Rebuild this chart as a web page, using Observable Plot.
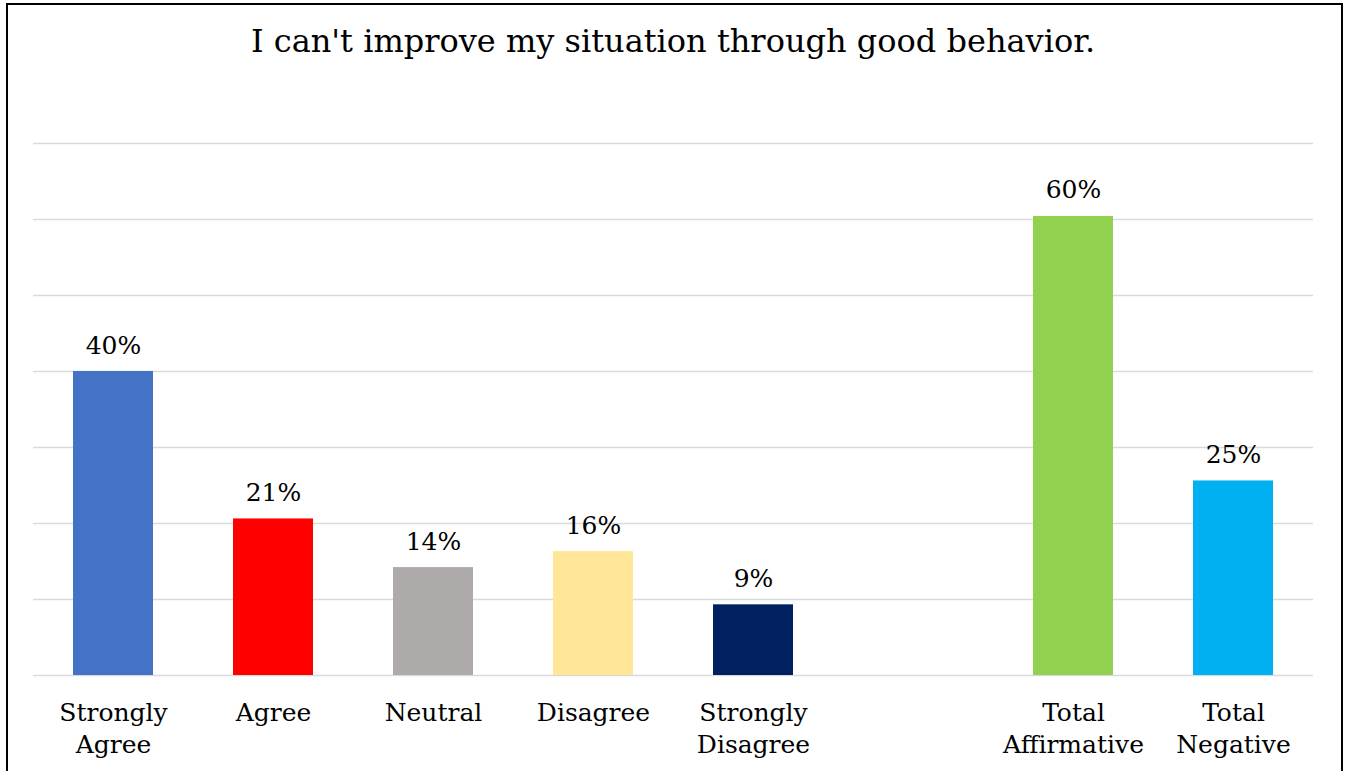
<!DOCTYPE html>
<html>
<head>
<meta charset="utf-8">
<script src="https://cdn.jsdelivr.net/npm/d3@7"></script>
<script src="https://cdn.jsdelivr.net/npm/@observablehq/plot@0.6"></script>
<style>
  html, body { margin: 0; padding: 0; background: #fff; }
  body { width: 1346px; height: 771px; overflow: hidden; position: relative; font-family: "DejaVu Serif", Georgia, serif; }
  #frame { position: absolute; left: 6px; top: 3px; width: 1337px; height: 820px; border: 2px solid #000; box-sizing: border-box; }
  #title { position: absolute; left: 0; top: 22px; width: 1346px; text-align: center; font-size: 32px; color: #000; }
  #chart { position: absolute; left: 0; top: 0; }
</style>
</head>
<body>
<div id="frame"></div>
<div id="title">I can't improve my situation through good behavior.</div>
<div id="chart"></div>
<script>
const categories = ["Strongly Agree", "Agree", "Neutral", "Disagree", "Strongly Disagree", "Total Affirmative", "Total Negative"];
const values = [40.0, 20.6, 14.2, 16.3, 9.3, 60.4, 25.6];
const valueLabels = ["40%", "21%", "14%", "16%", "9%", "60%", "25%"];
const tickLabels = ["Strongly\nAgree", "Agree", "Neutral", "Disagree", "Strongly\nDisagree", "Total\nAffirmative", "Total\nNegative"];
const colors = ["#4472C4", "#FF0000", "#AEAAAA", "#FFE699", "#002060", "#92D050", "#00B0F0"];
const xDomain = ["Strongly Agree", "Agree", "Neutral", "Disagree", "Strongly Disagree", " ", "Total Affirmative", "Total Negative"];
const gridTicks = [0, 10, 20, 30, 40, 50, 60, 70];

const data = categories.map((c, i) => ({category: c, value: values[i], label: valueLabels[i], tick: tickLabels[i], color: colors[i]}));

const chart = Plot.plot({
  width: 1346,
  height: 771,
  marginLeft: 33,
  marginRight: 33,
  marginTop: 143,
  marginBottom: 96,
  style: {fontFamily: '"DejaVu Serif", Georgia, serif', background: "transparent"},
  x: {domain: xDomain, paddingInner: 0.5, paddingOuter: 0.25, axis: null},
  y: {domain: [0, 70], axis: null},
  marks: [
    Plot.ruleY(gridTicks, {stroke: "#d9d9d9", strokeWidth: 1.5}),
    Plot.barY(data, {x: "category", y: "value", fill: "color"}),
    Plot.text(data, {x: "category", y: "value", text: "label", lineAnchor: "bottom", dy: -18, fontSize: 25, fill: "#000"}),
    Plot.text(data, {x: "category", y: 0, text: "tick", lineAnchor: "top", dy: 22, fontSize: 25, lineHeight: 1.3, fill: "#000"})
  ]
});
document.getElementById("chart").appendChild(chart);
</script>
</body>
</html>
